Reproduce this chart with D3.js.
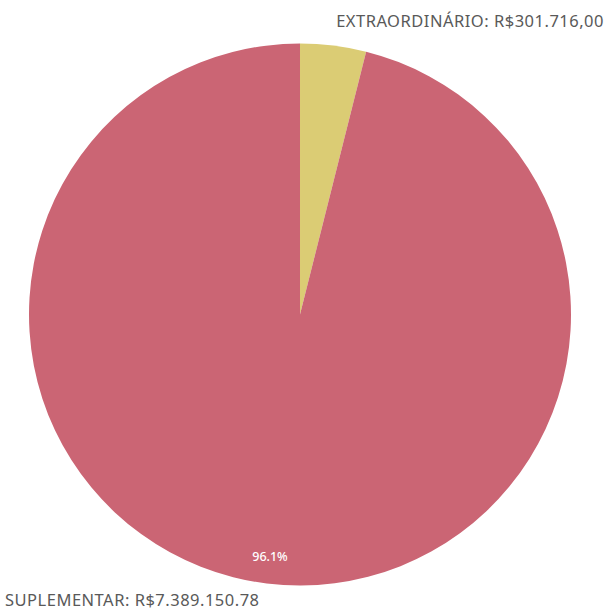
<!DOCTYPE html>
<html>
<head>
<meta charset="utf-8">
<script src="https://cdn.jsdelivr.net/npm/d3@7"></script>
<style>
  body { margin: 0; background: #fff; }
  text { font-family: "Noto Sans", sans-serif; }
</style>
</head>
<body>
<svg id="pie"></svg>
<script>
const categories = ["EXTRAORDINÁRIO", "SUPLEMENTAR"];
const values = [301716.00, 7389150.78];
const valueLabels = ["R$301.716,00", "R$7.389.150.78"];
const colors = ["#dbcc74", "#cb6574"];

const width = 608, height = 610,
      cx = 300, cy = 314.5, radius = 271;

const svg = d3.select("#pie")
    .attr("width", width)
    .attr("height", height);

const g = svg.append("g")
    .attr("transform", `translate(${cx},${cy})`);

const pie = d3.pie().sort(null).value(d => d.value);
const data = categories.map((c, i) => ({ name: c, value: values[i], label: valueLabels[i], color: colors[i] }));
const arcs = pie(data);

const arc = d3.arc().innerRadius(0).outerRadius(radius);
const labelArc = d3.arc().innerRadius(radius * 0.9).outerRadius(radius * 0.9);

g.selectAll("path")
    .data(arcs)
    .enter().append("path")
    .attr("d", arc)
    .attr("fill", d => d.data.color);

const total = d3.sum(values);

// percent label only on the big slice
g.selectAll(".pct")
    .data(arcs.filter(d => d.data.value / total > 0.1))
    .enter().append("text")
    .attr("class", "pct")
    .attr("transform", d => `translate(${labelArc.centroid(d)})`)
    .attr("text-anchor", "middle")
    .attr("dy", "0.35em")
    .attr("fill", "#fff")
    .attr("font-size", 12.5)
    .attr("font-weight", 500)
    .text(d => d3.format(".1%")(d.data.value / total));

svg.append("text")
    .attr("x", 604)
    .attr("y", 27)
    .attr("text-anchor", "end")
    .attr("fill", "#595959")
    .attr("font-size", 16.5)
    .attr("letter-spacing", 0.5)
    .text(`${data[0].name}: ${data[0].label}`);

svg.append("text")
    .attr("x", 5)
    .attr("y", 606)
    .attr("fill", "#595959")
    .attr("font-size", 16.5)
    .attr("letter-spacing", 0.5)
    .text(`${data[1].name}: ${data[1].label}`);
</script>
</body>
</html>
